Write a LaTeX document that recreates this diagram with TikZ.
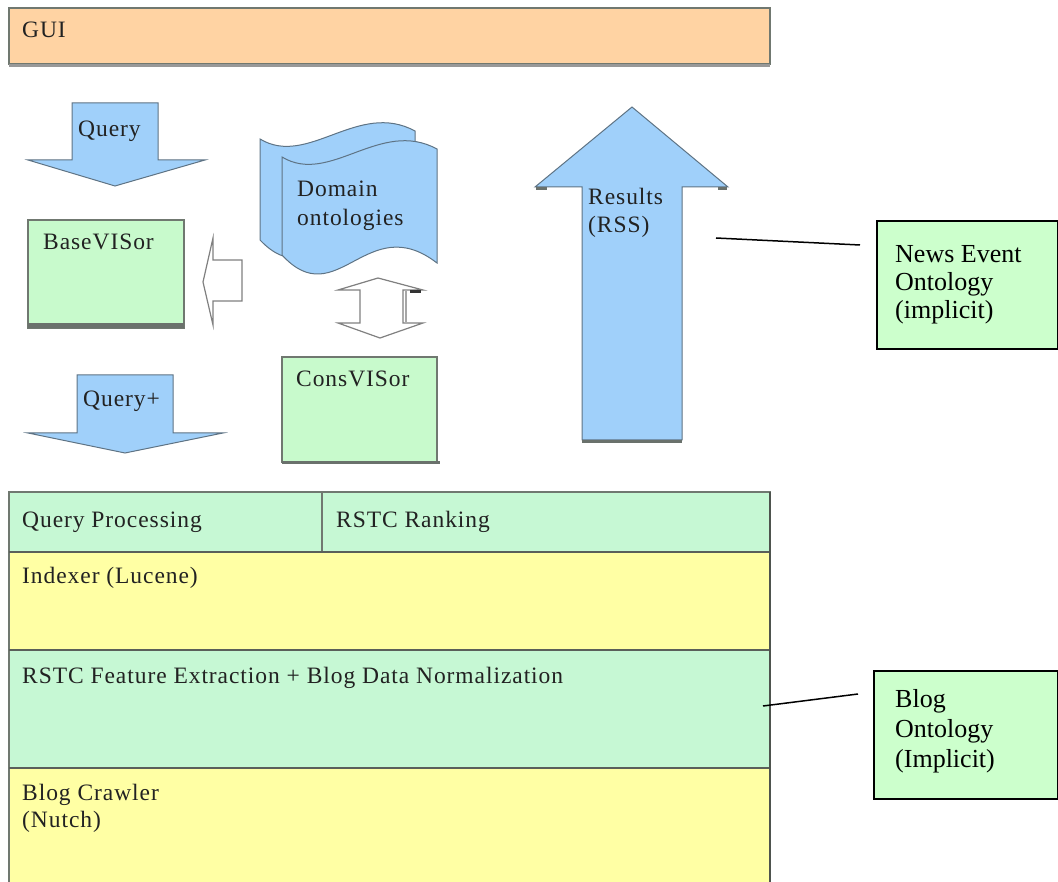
\documentclass[tikz,border=0pt]{standalone}
\usepackage{fontspec}
\setmainfont{Liberation Serif}
\newfontfamily\dg[LetterSpace=4]{Liberation Serif}
\definecolor{peach}{HTML}{FFD3A3}
\definecolor{sky}{HTML}{A0D0FA}
\definecolor{mint}{HTML}{C6F8D4}
\definecolor{lime}{HTML}{CCFFCC}
\definecolor{boxgreen}{HTML}{C8FACC}
\definecolor{pale}{HTML}{FFFFA4}
\definecolor{boxedge}{HTML}{707870}
\definecolor{arrowedge}{HTML}{5E7384}
\definecolor{shadowgray}{HTML}{6A716C}
\definecolor{inkc}{HTML}{222222}
\begin{document}
\begin{tikzpicture}[x=1pt,y=-1pt,
  box/.style={draw=boxedge, line width=1.2pt, anchor=north west, inner sep=0pt, outer sep=0pt},
  txt/.style={anchor=base west, inner sep=0pt, text=inkc, font=\dg\fontsize{23.5}{27}\selectfont},
  note/.style={draw=black, line width=1.5pt, fill=lime, anchor=north west, inner sep=0pt, outer sep=0pt},
  notetxt/.style={anchor=base west, inner sep=0pt, font=\rmfamily\fontsize{26}{28}\selectfont},
  bluearrow/.style={draw=arrowedge, fill=sky, line width=1pt, line join=miter},
  hollow/.style={draw=gray, fill=white, line width=1.2pt, line join=miter},
  leader/.style={draw=black, line width=1.5pt},
  shade/.style={draw=shadowgray, line width=3pt},
]
\useasboundingbox (0,0) rectangle (1058,882);

% GUI bar
\node[box, fill=peach, minimum width=761pt, minimum height=56pt] (gui) at (9,8) {};
\draw[draw=gray!80, line width=3pt] ([yshift=-1.5pt]gui.south west) -- ([yshift=-1.5pt]gui.south east);
\node[txt] (guit) at (22,38) {GUI};

% Query arrow
\draw[bluearrow] (72,103) -- (158,103) -- (158,160) -- (205,160) -- (115,186) -- (28,160) -- (72,160) -- cycle;
\node[txt] (query) at (78,137) {Query};

% BaseVISor
\node[box, fill=boxgreen, minimum width=156pt, minimum height=108pt] (base) at (28,220) {};
\draw[shade, line width=5pt] ([yshift=2.5pt]base.south west) -- ([yshift=2.5pt]base.south east);
\node[txt] (baset) at (43,250) {BaseVISor};

% Query+ arrow
\draw[bluearrow] (77,375) -- (173,375) -- (173,433) -- (223,433) -- (125,453) -- (28,433) -- (77,433) -- cycle;
\node[txt] (queryp) at (83,407) {Query+};

% hollow arrow to BaseVISor
\draw[hollow] (203,282) -- (213,238) -- (213,260) -- (242,260) -- (242,301) -- (213,301) -- (213,325) -- cycle;

% Domain ontologies (two sheets)
\draw[bluearrow] (260,139) .. controls (308,168) and (358,100) .. (415,131) -- (415,246) .. controls (345,192) and (315,298) .. (260,240) -- cycle;
\draw[bluearrow] (282,157) .. controls (330,186) and (380,118) .. (437,149) -- (437,263) .. controls (367,209) and (337,315) .. (282,255) -- cycle;
\node[txt] (dom1) at (297,197) {Domain};
\node[txt] (dom2) at (297,226) {ontologies};

% double hollow arrow
\draw[hollow] (378,278) -- (423,290) -- (403,290) -- (403,323) -- (423,323) -- (380,338) -- (338,323) -- (360,323) -- (360,290) -- (338,290) -- cycle;
\draw[draw=gray!70, line width=1.5pt] (406,291) -- (406,322);
\draw[draw=black!80, line width=3pt] (410,291.5) -- (421,291.5);

% ConsVISor
\node[box, fill=boxgreen, minimum width=155pt, minimum height=105pt] (cons) at (282,357) {};
\draw[shade] ([yshift=-0.5pt]cons.south west) -- ([yshift=-0.5pt,xshift=3pt]cons.south east);
\node[txt] (const) at (296,387) {ConsVISor};

% Results arrow
\draw[bluearrow] (582,440) -- (582,187) -- (535,187) -- (632,107) -- (728,187) -- (682,187) -- (682,440) -- cycle;
\draw[shade] (582,441.5) -- (682,441.5);
\draw[draw=shadowgray, line width=3pt] (536,188.5) -- (547,188.5);
\draw[draw=shadowgray, line width=3pt] (718,188.5) -- (727,188.5);
\node[txt] (res1) at (588,205) {Results};
\node[txt] (res2) at (588,233) {(RSS)};

% News Event Ontology note
\node[note, minimum width=181pt, minimum height=128pt] (news) at (877,221) {};
\node[notetxt] (news1) at (895,263) {News Event};
\node[notetxt] (news2) at (895,291) {Ontology};
\node[notetxt] (news3) at (895,319) {(implicit)};
\coordinate (nl1) at (716,238);
\coordinate (nl2) at (860,245);
\draw[leader] (nl1) -- (nl2);

% bottom stack
\node[box, fill=mint, minimum width=313pt, minimum height=60pt] (qp) at (9,492) {};
\node[box, fill=mint, minimum width=448pt, minimum height=60pt] (rank) at (322,492) {};
\node[box, fill=pale, minimum width=761pt, minimum height=98pt] (idx) at (9,552) {};
\node[box, fill=mint, minimum width=761pt, minimum height=118pt] (feat) at (9,650) {};
\node[box, fill=pale, minimum width=761pt, minimum height=125pt] (crawl) at (9,768) {};
\draw[draw=boxedge!80!black, line width=1.6pt] (idx.north west) -- (idx.north east);
\draw[draw=boxedge!80!black, line width=1.6pt] (feat.north west) -- (feat.north east);
\draw[draw=boxedge!80!black, line width=1.6pt] (crawl.north west) -- (crawl.north east);
\draw[draw=boxedge!70!black, line width=2pt] (rank.north east) -- (crawl.south east);
\node[txt] (qpt) at (22,527) {Query Processing};
\node[txt] (rankt) at (336,527) {RSTC Ranking};
\node[txt] (idxt) at (22,583) {Indexer (Lucene)};
\node[txt] (featt) at (22,683) {RSTC Feature Extraction + Blog Data Normalization};
\node[txt] (crawl1) at (22,800) {Blog Crawler};
\node[txt] (crawl2) at (22,827) {(Nutch)};

% Blog Ontology note
\node[note, minimum width=184pt, minimum height=128pt] (blog) at (874,671) {};
\node[notetxt] (blog1) at (895,707) {Blog};
\node[notetxt] (blog2) at (895,737) {Ontology};
\node[notetxt] (blog3) at (895,767) {(Implicit)};
\coordinate (bl1) at (763,706);
\coordinate (bl2) at (858,694);
\draw[leader] (bl1) -- (bl2);
\end{tikzpicture}
\end{document}
